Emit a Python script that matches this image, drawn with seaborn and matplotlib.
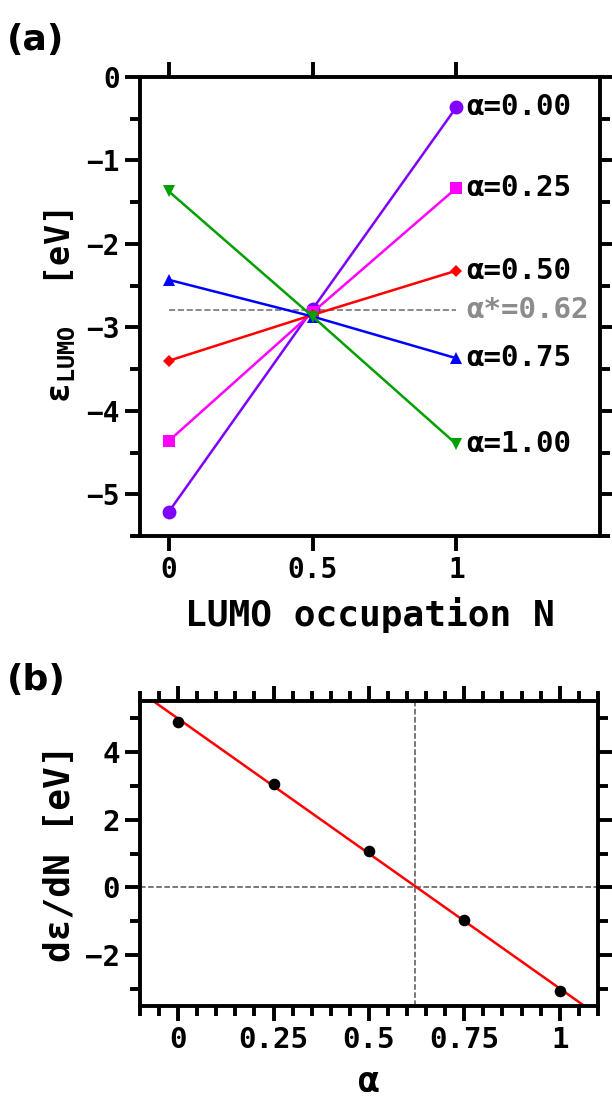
import numpy as np
import pandas as pd
import matplotlib
matplotlib.use('Agg')
import matplotlib.pyplot as plt
import seaborn as sns
from matplotlib.ticker import MultipleLocator, FixedLocator

# ---------------- data ----------------
occupation = [0.0, 0.5, 1.0]
alpha_labels = ['α=0.00', 'α=0.25', 'α=0.50', 'α=0.75', 'α=1.00']
eps_a000 = [-5.21, -2.78, -0.36]
eps_a025 = [-4.36, -2.82, -1.33]
eps_a050 = [-3.40, -2.85, -2.32]
eps_a075 = [-2.43, -2.87, -3.37]
eps_a100 = [-1.37, -2.87, -4.40]
alpha_star = 0.62
eps_star = -2.79
alpha_star_label = 'α*=0.62'

alphas = [0.0, 0.25, 0.5, 0.75, 1.0]
deps_dN = [4.88, 3.05, 1.09, -0.95, -3.07]

series_colors = ['#8000ff', '#ff00ff', '#ff0000', '#0000ff', '#00a000']
series_markers = ['o', 's', 'D', '^', 'v']
series_sizes = [10, 8.5, 6.5, 9, 9]

# ---------------- style ----------------
sns.set_style('ticks')
plt.rcParams['font.family'] = ['DejaVu Sans Mono', 'DejaVu Sans']
plt.rcParams['font.weight'] = 'bold'
plt.rcParams['axes.labelweight'] = 'bold'
plt.rcParams['mathtext.fontset'] = 'custom'
plt.rcParams['mathtext.rm'] = 'DejaVu Sans Mono:bold'
plt.rcParams['mathtext.default'] = 'rm'
plt.rcParams['axes.linewidth'] = 2.8
for k in ['axes.edgecolor', 'xtick.color', 'ytick.color', 'text.color', 'axes.labelcolor']:
    plt.rcParams[k] = 'black'

fig = plt.figure(figsize=(6.12, 11.07), dpi=100)
ax1 = fig.add_axes([0.2288, 0.5158, 0.752, 0.4146])
ax2 = fig.add_axes([0.2288, 0.0912, 0.748, 0.2755])

# ---------------- panel (a) ----------------
all_eps = [eps_a000, eps_a025, eps_a050, eps_a075, eps_a100]
for lab, vals, c, m, ms in zip(alpha_labels, all_eps, series_colors, series_markers, series_sizes):
    df = pd.DataFrame({'N': occupation, 'eps': vals})
    sns.lineplot(data=df, x='N', y='eps', ax=ax1, color=c, marker=m,
                 markersize=ms, markeredgewidth=0, linewidth=1.8, zorder=3)
    ax1.text(1.035, vals[-1], lab, ha='left', va='center', fontsize=21,
             fontweight='bold', color='black')

ax1.plot([0, 1], [eps_star, eps_star], ls='--', color='#777777', lw=1.2, zorder=1)
ax1.text(1.035, eps_star, alpha_star_label, ha='left', va='center', fontsize=21,
         fontweight='bold', color='#8c8c8c')

ax1.set_xlim(-0.1, 1.5)
ax1.set_ylim(-5.5, 0)
ax1.xaxis.set_major_locator(FixedLocator([0, 0.5, 1]))
ax1.set_xticklabels(['0', '0.5', '1'])
ax1.yaxis.set_major_locator(MultipleLocator(1))
ax1.yaxis.set_minor_locator(MultipleLocator(0.5))
ax1.tick_params(which='both', direction='out', top=True, right=True,
                labelsize=20, width=2.8)
ax1.tick_params(which='major', length=11)
ax1.tick_params(which='minor', length=7)
ax1.set_xlabel('LUMO occupation N', fontsize=26, labelpad=9)
ax1.set_ylabel(r'ε$_{\rm LUMO}$  [eV]', fontsize=24, labelpad=6)

# ---------------- panel (b) ----------------
ax2.set_xlim(-0.1, 1.1)
ax2.set_ylim(-3.5, 5.5)
dfb = pd.DataFrame({'alpha': alphas, 'slope': deps_dN})
sns.regplot(data=dfb, x='alpha', y='slope', ax=ax2, ci=None, truncate=False,
            scatter_kws=dict(color='black', s=70, zorder=3, linewidths=0, alpha=1),
            line_kws=dict(color='red', lw=1.8, zorder=2))
ax2.axhline(0, ls='--', color='#555555', lw=1.1, zorder=1)
ax2.axvline(alpha_star, ls='--', color='#555555', lw=1.1, zorder=1)
ax2.set_xlim(-0.1, 1.1)
ax2.set_ylim(-3.5, 5.5)
ax2.xaxis.set_major_locator(FixedLocator([0, 0.25, 0.5, 0.75, 1]))
ax2.set_xticklabels(['0', '0.25', '0.5', '0.75', '1'])
ax2.xaxis.set_minor_locator(MultipleLocator(0.05))
ax2.yaxis.set_major_locator(MultipleLocator(2))
ax2.yaxis.set_minor_locator(MultipleLocator(1))
ax2.tick_params(which='both', direction='out', top=True, right=True,
                labelsize=21, width=2.8)
ax2.tick_params(which='major', length=11)
ax2.tick_params(which='minor', length=7)
ax2.set_xlabel('α', fontsize=26, labelpad=8)
ax2.set_ylabel('dε/dN [eV]', fontsize=26, labelpad=6)

fig.text(0.012, 0.964, '(a)', family='DejaVu Sans', fontweight='bold',
         fontsize=26, ha='left', va='center')
fig.text(0.012, 0.386, '(b)', family='DejaVu Sans', fontweight='bold',
         fontsize=26, ha='left', va='center')

fig.savefig('out.png', dpi=100)
